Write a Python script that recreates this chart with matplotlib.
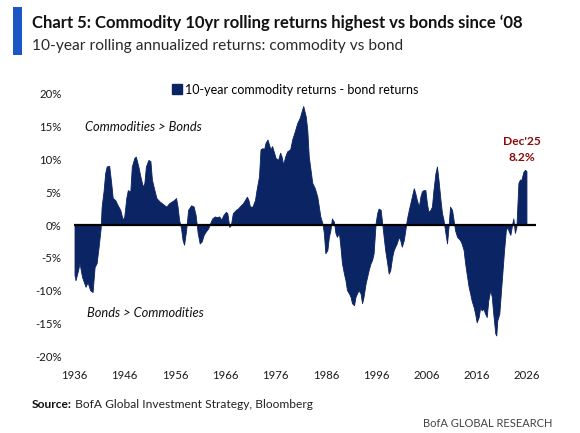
import matplotlib
matplotlib.use("Agg")
import matplotlib.pyplot as plt
from matplotlib.patches import Patch, Rectangle

plt.rcParams['font.family'] = ['Lato', 'Roboto', 'DejaVu Sans']

# ---- data ----
years = [1936.0, 1936.2, 1936.7, 1937.0, 1937.5, 1938.2, 1938.6, 1939.1, 1939.6, 1940.0,
         1940.4, 1940.8, 1941.2, 1941.4, 1941.8, 1942.1, 1942.4, 1942.9, 1943.3, 1943.6,
         1944.1, 1944.6, 1945.1, 1945.6, 1945.9, 1946.3, 1946.6, 1947.1, 1947.4, 1947.9,
         1948.2, 1948.7, 1949.1, 1949.6, 1949.9, 1950.2, 1950.7, 1951.1, 1951.4, 1951.9,
         1952.3, 1952.9, 1953.4, 1953.9, 1954.3, 1954.8, 1955.4, 1955.8, 1956.2, 1956.5,
         1956.8, 1957.2, 1957.5, 1957.8, 1958.2, 1958.6, 1959.2, 1959.7, 1960.1, 1960.5,
         1960.9, 1961.3, 1961.7, 1962.1, 1962.6, 1963.0, 1963.4, 1963.9, 1964.3, 1964.8,
         1965.2, 1965.6, 1966.1, 1966.4, 1966.8, 1967.1, 1967.5, 1968.1, 1968.5, 1969.1,
         1969.5, 1969.9, 1970.3, 1970.6, 1970.9, 1971.4, 1971.9, 1972.2, 1972.7, 1973.0,
         1973.4, 1973.7, 1974.0, 1974.4, 1974.7, 1975.0, 1975.3, 1975.7, 1976.0, 1976.5,
         1976.9, 1977.2, 1977.5, 1977.9, 1978.3, 1978.9, 1979.3, 1979.8, 1980.3, 1980.8,
         1981.3, 1981.5, 1982.0, 1982.3, 1982.6, 1983.3, 1983.8, 1984.3, 1984.6, 1984.9,
         1985.3, 1985.6, 1985.9, 1986.3, 1986.6, 1986.9, 1987.2, 1987.6, 1987.9, 1988.2,
         1988.6, 1988.9, 1989.2, 1989.6, 1989.9, 1990.2, 1990.6, 1990.9, 1991.2, 1991.6,
         1991.9, 1992.2, 1992.5, 1992.9, 1993.2, 1993.5, 1993.9, 1994.2, 1994.5, 1994.9,
         1995.2, 1995.5, 1995.9, 1996.2, 1996.5, 1996.9, 1997.2, 1997.5, 1997.8, 1998.2,
         1998.5, 1998.8, 1999.2, 1999.5, 1999.8, 2000.1, 2000.5, 2000.8, 2001.1, 2001.5,
         2001.8, 2002.1, 2002.5, 2002.8, 2003.1, 2003.5, 2003.8, 2004.1, 2004.5, 2004.8,
         2005.1, 2005.4, 2005.8, 2006.1, 2006.4, 2006.8, 2007.1, 2007.4, 2007.8, 2008.1,
         2008.4, 2008.8, 2009.1, 2009.4, 2009.7, 2010.1, 2010.4, 2010.7, 2011.1, 2011.4,
         2011.7, 2012.1, 2012.7, 2013.0, 2013.4, 2013.7, 2014.0, 2014.4, 2014.7, 2015.0,
         2015.4, 2015.7, 2016.0, 2016.4, 2016.7, 2017.0, 2017.3, 2017.7, 2018.0, 2018.3,
         2018.7, 2019.0, 2019.3, 2019.7, 2019.9, 2020.1, 2020.5, 2020.8, 2021.1, 2021.4,
         2021.8, 2022.1, 2022.4, 2022.7, 2023.1, 2023.3, 2023.6, 2023.9, 2024.3, 2024.6,
         2024.9, 2025.3, 2025.6, 2025.9]
spread = [-7.6, -8.4, -6.9, -5.8, -7.9, -9.4, -8.7, -9.9, -10.2, -6.4,
          -5.8, -3.3, -0.5, 2.8, 5.3, 7.9, 8.9, 9.0, 6.4, 4.1,
          3.8, 3.0, 2.3, 0.8, 1.3, 4.1, 5.3, 5.1, 8.9, 10.2,
          10.4, 8.9, 7.4, 5.8, 6.4, 8.9, 9.9, 9.7, 6.9, 5.3,
          4.1, 3.6, 3.3, 3.0, 2.8, 3.3, 3.6, 3.8, 4.1, 2.8,
          0.8, -0.5, -2.3, -3.0, -0.8, 2.3, 3.0, 2.8, 1.5, -1.2,
          -2.8, -2.5, -1.5, -1.0, -0.5, 0.3, 1.0, 1.3, 1.2, 1.3,
          0.8, 1.5, 2.0, 1.8, -0.3, 0.0, 1.8, 2.3, 2.5, 3.0,
          3.3, 3.8, 4.3, 3.8, 2.8, 2.8, 3.8, 5.3, 7.4, 11.5,
          11.7, 11.5, 12.5, 13.0, 12.2, 11.5, 12.0, 11.0, 10.2, 9.9,
          11.0, 10.4, 9.2, 10.4, 11.2, 11.5, 13.0, 14.2, 15.5, 16.3,
          17.6, 18.1, 16.5, 14.5, 10.4, 6.4, 5.6, 4.3, 2.8, 1.3,
          0.3, -1.2, -4.3, -3.8, -1.8, -0.8, 1.0, 0.5, -1.2, -1.8,
          -1.2, -3.3, -5.8, -7.4, -8.4, -9.9, -10.4, -10.9, -11.9, -12.2,
          -10.9, -10.4, -9.9, -10.4, -11.9, -10.9, -8.9, -7.9, -6.9, -5.8,
          -5.3, -4.3, 0.3, 1.8, 2.5, 2.3, 0.3, -1.8, -3.8, -5.8,
          -7.4, -6.9, -4.8, -3.8, -3.3, -2.8, -1.8, -2.3, -3.3, -2.3,
          -0.8, 0.8, 2.3, 3.3, 4.3, 5.6, 4.8, 3.8, 2.8, 4.3,
          5.1, 5.3, 5.3, 3.3, 2.0, 2.3, 2.8, 5.3, 7.9, 8.9,
          6.9, 3.8, 1.8, 0.8, -0.8, -2.8, -0.3, 2.8, 2.3, 0.8,
          -0.8, -1.8, -2.3, -2.8, -3.8, -5.8, -7.4, -9.4, -10.4, -11.5,
          -12.5, -13.5, -14.8, -14.0, -12.5, -13.0, -12.7, -13.5, -14.0, -11.5,
          -9.9, -10.9, -13.5, -16.5, -16.8, -14.5, -13.5, -10.4, -7.4, -4.3,
          -0.8, -0.3, -1.0, -1.5, 0.3, 1.0, -1.2, -0.3, 6.4, 6.9,
          6.9, 8.1, 8.4, 8.2]
x_ticks = [1936, 1946, 1956, 1966, 1976, 1986, 1996, 2006, 2016, 2026]
y_ticks = [-20, -15, -10, -5, 0, 5, 10, 15, 20]
series_label = "10-year commodity returns - bond returns"
last_label = "Dec'25"
last_value = 8.2

# ---- figure ----
W, H = 580, 433
fig = plt.figure(figsize=(W / 100, H / 100), dpi=100)
fig.patch.set_facecolor('white')
renderer = fig.canvas.get_renderer()


def fx(px):
    return px / W


def fy(py):
    return 1 - py / H


def text_width(t):
    return t.get_window_extent(renderer=renderer).width


def fit(t, target_px):
    t.set_fontsize(t.get_fontsize() * target_px / text_width(t))


def fitted_size(s, target_px, **kw):
    tmp = fig.text(0, 0, s, fontsize=10, **kw)
    size = 10 * target_px / text_width(tmp)
    tmp.remove()
    return size


ax_left, ax_right, ax_top, ax_bot = 74, 536, 93.5, 356.5
ax = fig.add_axes([fx(ax_left), fy(ax_bot), (ax_right - ax_left) / W, (ax_bot - ax_top) / H])

navy = '#0b2463'
ax.fill_between(years, 0, spread, color=navy, linewidth=0.6, edgecolor=navy)
ax.axhline(0, color='black', linewidth=1.6, zorder=3)

tick_size = fitted_size("2026", 26.5)
ax.set_xlim(1935.9, 2027.8)
ax.set_ylim(-20, 20)
ax.set_xticks(x_ticks)
ax.set_xticklabels([str(t) for t in x_ticks])
ax.set_yticks(y_ticks)
ax.set_yticklabels([f"{t}%" for t in y_ticks])
ax.tick_params(axis='both', length=0, labelsize=tick_size, colors='#1a1a1a')
ax.tick_params(axis='y', pad=9)
ax.tick_params(axis='x', pad=10)
for s in ax.spines.values():
    s.set_visible(False)

# annotations inside the plot
t1 = ax.text(0.024, 0.872, "Commodities > Bonds", transform=ax.transAxes, fontsize=10,
             style='italic', color='#111111', ha='left', va='center')
fit(t1, 117)
t2 = ax.text(0.028, 0.166, "Bonds > Commodities", transform=ax.transAxes, fontsize=10,
             style='italic', color='#111111', ha='left', va='center')
fit(t2, 117)
d1 = ax.annotate(last_label, xy=(years[-1], last_value), xytext=(-3, 21), textcoords='offset points',
                 ha='center', va='center', fontsize=10, fontweight='bold', color='#8b0a0a')
fit(d1, 38)
d2 = ax.annotate(f"{last_value}%", xy=(years[-1], last_value), xytext=(-3, 9.5),
                 textcoords='offset points', ha='center', va='center',
                 fontsize=d1.get_fontsize(), fontweight='bold', color='#8b0a0a')

# legend
leg_size = fitted_size(series_label, 233)
fig.legend(handles=[Patch(facecolor=navy, edgecolor=navy, label=series_label)],
           loc='center left', bbox_to_anchor=(fx(172), fy(89.5)), frameon=False,
           fontsize=leg_size, handlelength=0.8, handleheight=0.85, handletextpad=0.25,
           borderpad=0, borderaxespad=0)

# title block
fig.patches.append(Rectangle((fx(13), fy(55)), fx(9), 48 / H, transform=fig.transFigure,
                             facecolor='#1a56c4', edgecolor='none'))
tt = fig.text(fx(31.5), fy(28.3), "Chart 5: Commodity 10yr rolling returns highest vs bonds since \u201808",
              fontsize=13, fontweight='bold', color='#111111', ha='left', va='baseline')
fit(tt, 492)
st = fig.text(fx(32), fy(50), "10-year rolling annualized returns: commodity vs bond",
              fontsize=13, fontweight='normal', color='#2a2a2a', ha='left', va='baseline')
fit(st, 371)

# footer
src_b = fig.text(fx(32), fy(408), "Source:", fontsize=10, fontweight='bold',
                 color='#111111', ha='left', va='baseline')
src_r = fig.text(fx(80), fy(408), " BofA Global Investment Strategy, Bloomberg", fontsize=10,
                 color='#222222', ha='left', va='baseline')
scale = 281 / (text_width(src_b) + text_width(src_r))
src_b.set_fontsize(10 * scale)
src_r.set_fontsize(10 * scale)
bb = src_b.get_window_extent(renderer=renderer)
src_r.set_x(bb.x1 / W)
br = fig.text(fx(552), fy(427), "BofA GLOBAL RESEARCH", fontsize=10, fontweight='normal',
              color='#444444', ha='right', va='baseline')
fit(br, 130)

fig.savefig("out.png", dpi=100)
